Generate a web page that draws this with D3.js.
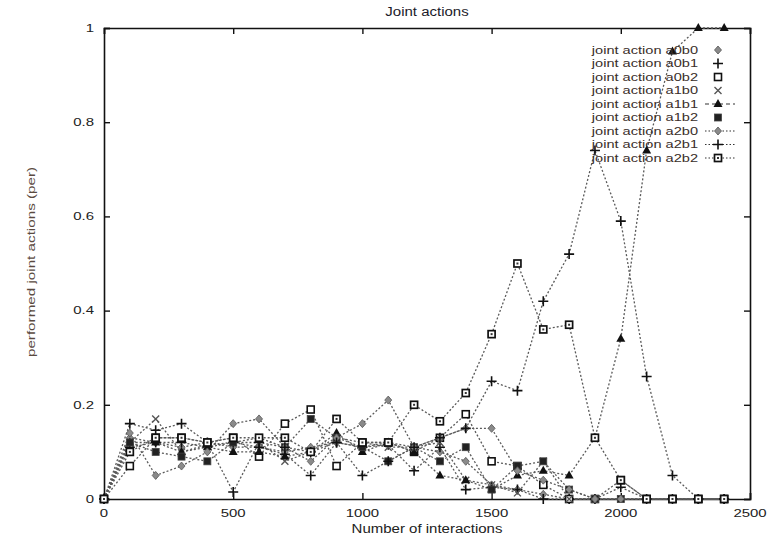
<!DOCTYPE html>
<html>
<head>
<meta charset="utf-8">
<script src="https://cdn.jsdelivr.net/npm/d3@7"></script>
<style>
body { margin: 0; background: #fff; }
text { font-family: "Liberation Sans", Arial, sans-serif; }
</style>
</head>
<body>
<div id="chart" style="width:784px;height:539px;"></div>
<script>
// number of interactions (x values)
var interactions = [0, 100, 200, 300, 400, 500, 600, 700, 800, 900, 1000, 1100, 1200,
    1300, 1400, 1500, 1600, 1700, 1800, 1900, 2000, 2100, 2200, 2300, 2400];

// performed joint actions
var a0b0 = [0, 0.13, 0.12, 0.11, 0.12, 0.11, 0.11, 0.10, 0.11, 0.12, 0.11, 0.12, 0.11, 0.10, 0.08, 0.03, 0.02, 0.01, 0, 0, 0, 0, 0, 0, 0];
var a0b1 = [0, 0.11, 0.12, 0.12, 0.11, 0.12, 0.11, 0.095, 0.05, 0.12, 0.11, 0.115, 0.06, 0.11, 0.02, 0.025, 0.02, 0, 0, 0, 0.025, 0, 0, 0, 0];
var a0b2 = [0, 0.07, 0.13, 0.13, 0.12, 0.13, 0.09, 0.16, 0.19, 0.07, 0.12, 0.12, 0.10, 0.13, 0.18, 0.08, 0.07, 0.03, 0, 0, 0.04, 0, 0, 0, 0];
var a1b0 = [0, 0.12, 0.17, 0.10, 0.115, 0.12, 0.12, 0.08, 0.10, 0.13, 0.12, 0.11, 0.11, 0.12, 0.04, 0.03, 0.013, 0.08, 0, 0, 0, 0, 0, 0, 0];
var a1b1 = [0, 0.12, 0.12, 0.10, 0.11, 0.10, 0.10, 0.09, 0.10, 0.14, 0.10, 0.12, 0.10, 0.05, 0.04, 0.02, 0.05, 0.06, 0.05, 0.13, 0.34, 0.74, 0.95, 1, 1];
var a1b2 = [0, 0.12, 0.10, 0.09, 0.08, 0.12, 0.13, 0.11, 0.17, 0.13, 0.11, 0.08, 0.11, 0.08, 0.11, 0.02, 0.07, 0.08, 0.02, 0, 0, 0, 0, 0, 0];
var a2b0 = [0, 0.14, 0.05, 0.07, 0.10, 0.16, 0.17, 0.11, 0.08, 0.13, 0.16, 0.21, 0.11, 0.13, 0.15, 0.15, 0.06, 0.04, 0.02, 0, 0, 0, 0, 0, 0];
var a2b1 = [0, 0.16, 0.146, 0.16, 0.12, 0.015, 0.12, 0.11, 0.10, 0.12, 0.05, 0.08, 0.11, 0.13, 0.15, 0.25, 0.23, 0.42, 0.52, 0.74, 0.59, 0.26, 0.05, 0, 0];
var a2b2 = [0, 0.10, 0.13, 0.13, 0.12, 0.13, 0.13, 0.13, 0.10, 0.17, 0.12, 0.12, 0.20, 0.165, 0.225, 0.35, 0.50, 0.36, 0.37, 0.13, 0.04, 0, 0, 0, 0];

var seriesNames = ["joint action a0b0", "joint action a0b1", "joint action a0b2",
    "joint action a1b0", "joint action a1b1", "joint action a1b2",
    "joint action a2b0", "joint action a2b1", "joint action a2b2"];
var xTicks = [0, 500, 1000, 1500, 2000, 2500];
var yTicks = [0, 0.2, 0.4, 0.6, 0.8, 1];

var allSeries = [a0b0, a0b1, a0b2, a1b0, a1b1, a1b2, a2b0, a2b1, a2b2];
var markers = ["diamond", "plus", "square", "times", "triangle", "box", "diamond", "plus", "squareDot"];
var legendLines = [false, false, false, false, "4,3", false, "1.5,2", "1.5,2", "1.5,2"];

var width = 784;
var height = 539;
var margin = {top: 28, left: 104, right: 34, bottom: 40};
var stretch = 1.3; // the original text is wide and blurry

var svg = d3.select("#chart")
    .append("svg")
    .attr("width", width)
    .attr("height", height);

var xScale = d3.scaleLinear()
    .domain([0, 2500])
    .range([margin.left, width - margin.right]);

var yScale = d3.scaleLinear()
    .domain([0, 1])
    .range([height - margin.bottom, margin.top]);

function wideText(x, y, str, size, anchor, color, sx, rotate) {
    var g = svg.append("g")
        .attr("transform", `translate(${x},${y}) rotate(${rotate || 0}) scale(${sx},1)`);
    g.append("text")
        .attr("text-anchor", anchor)
        .attr("font-size", size)
        .attr("fill", color)
        .attr("dominant-baseline", "central")
        .text(str);
    return g;
}

// axes with inward ticks, mirrored on top and right like gnuplot
svg.append("g")
    .attr("transform", `translate(0,${height - margin.bottom})`)
    .call(d3.axisBottom(xScale).tickValues(xTicks).tickSize(-6).tickFormat(""));
svg.append("g")
    .attr("transform", `translate(0,${margin.top})`)
    .call(d3.axisTop(xScale).tickValues(xTicks).tickSize(-6).tickFormat(""));
svg.append("g")
    .attr("transform", `translate(${margin.left},0)`)
    .call(d3.axisLeft(yScale).tickValues(yTicks).tickSize(-6).tickFormat(""));
svg.append("g")
    .attr("transform", `translate(${width - margin.right},0)`)
    .call(d3.axisRight(yScale).tickValues(yTicks).tickSize(-6).tickFormat(""));

svg.selectAll(".domain").attr("stroke", "#111").attr("stroke-width", 1.6);
svg.selectAll(".tick line").attr("stroke", "#111").attr("stroke-width", 1.4);

xTicks.forEach(function(t) {
    wideText(xScale(t), height - margin.bottom + 14, String(t), 11.5, "middle", "#222", stretch);
});
yTicks.forEach(function(t) {
    wideText(margin.left - 10, yScale(t), String(t), 11.5, "end", "#222", stretch);
});

var line = d3.line()
    .x(function(d, i) { return xScale(interactions[i]); })
    .y(function(d) { return yScale(d); });

var plot = svg.append("g");

allSeries.forEach(function(values) {
    plot.append("path")
        .datum(values)
        .attr("d", line)
        .attr("fill", "none")
        .attr("stroke", "#5a5a5a")
        .attr("stroke-width", 1.3)
        .attr("stroke-dasharray", "2,2");
});

function drawMarker(g, type, x, y) {
    if (type == "diamond") {
        g.append("path")
            .attr("d", `M${x},${y - 4}L${x + 3.5},${y}L${x},${y + 4}L${x - 3.5},${y}Z`)
            .attr("fill", "#8a8a8a").attr("stroke", "#555").attr("stroke-width", 0.8);
    } else if (type == "plus") {
        g.append("path")
            .attr("d", `M${x - 5},${y}H${x + 5}M${x},${y - 5}V${y + 5}`)
            .attr("stroke", "#111").attr("stroke-width", 1.6);
    } else if (type == "times") {
        g.append("path")
            .attr("d", `M${x - 3.5},${y - 3.5}L${x + 3.5},${y + 3.5}M${x - 3.5},${y + 3.5}L${x + 3.5},${y - 3.5}`)
            .attr("stroke", "#555").attr("stroke-width", 1.4);
    } else if (type == "triangle") {
        g.append("path")
            .attr("d", `M${x},${y - 5}L${x + 4.5},${y + 3}L${x - 4.5},${y + 3}Z`)
            .attr("fill", "#111");
    } else if (type == "box") {
        g.append("rect")
            .attr("x", x - 3.5).attr("y", y - 3.5).attr("width", 7).attr("height", 7)
            .attr("fill", "#222").attr("stroke", "#444").attr("stroke-width", 0.8);
    } else if (type == "square") {
        g.append("rect")
            .attr("x", x - 3.5).attr("y", y - 3.5).attr("width", 7).attr("height", 7)
            .attr("fill", "#fff").attr("stroke", "#111").attr("stroke-width", 1.6);
    } else if (type == "squareDot") {
        g.append("rect")
            .attr("x", x - 3.5).attr("y", y - 3.5).attr("width", 7).attr("height", 7)
            .attr("fill", "#fff").attr("stroke", "#111").attr("stroke-width", 1.7);
        g.append("rect")
            .attr("x", x - 1).attr("y", y - 1).attr("width", 2).attr("height", 2)
            .attr("fill", "#333");
    }
}

allSeries.forEach(function(values, s) {
    var g = plot.append("g");
    values.forEach(function(v, i) {
        drawMarker(g, markers[s], xScale(interactions[i]), yScale(v));
    });
});

// legend
var legend = svg.append("g");
seriesNames.forEach(function(name, i) {
    var y = 50 + i * 13.5;
    wideText(698, y, name, 11.5, "end", "#3a2e2a", 1.27);
    if (legendLines[i]) {
        legend.append("line")
            .attr("x1", 705).attr("x2", 735)
            .attr("y1", y).attr("y2", y)
            .attr("stroke", "#333").attr("stroke-width", 1.2)
            .attr("stroke-dasharray", legendLines[i]);
    }
    drawMarker(legend, markers[i], 718, y);
});

wideText(427, 12, "Joint actions", 12, "middle", "#1a1a2a", 1.25);
wideText(427, 529, "Number of interactions", 12, "middle", "#222", 1.25);
wideText(31, 262, "performed joint actions (per)", 10.5, "middle", "#5a4a40", 1.45, -90);
</script>
</body>
</html>
